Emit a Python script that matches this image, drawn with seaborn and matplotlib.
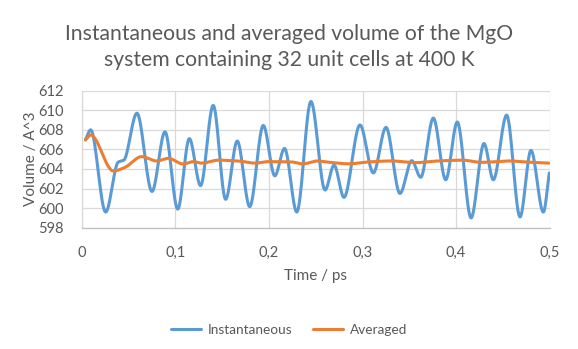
import numpy as np
import pandas as pd
import matplotlib
matplotlib.use("Agg")
import matplotlib.pyplot as plt
import seaborn as sns

# ---- data ----
inst_t = [0.004, 0.0096, 0.0256, 0.039, 0.045, 0.059, 0.0751, 0.089, 0.1026, 0.115,
          0.127, 0.1405, 0.1538, 0.1662, 0.1795, 0.194, 0.2063, 0.2167, 0.2298, 0.2449,
          0.260, 0.2696, 0.2802, 0.2973, 0.3116, 0.3251, 0.340, 0.3526, 0.3622, 0.3757,
          0.3889, 0.4013, 0.416, 0.4298, 0.4398, 0.454, 0.4683, 0.480, 0.4932, 0.4996]
inst_v = [607.0, 608.0, 599.6, 604.7, 604.9, 609.7, 601.7, 607.8, 599.9, 607.1,
          602.3, 610.5, 600.9, 606.85, 600.15, 608.45, 603.3, 606.1, 599.6, 610.9,
          601.85, 604.4, 601.1, 608.5, 603.6, 608.25, 601.5, 604.85, 603.15, 609.2,
          602.9, 608.8, 599.0, 606.6, 602.9, 609.5, 599.1, 605.9, 599.6, 603.6]

avg_t = [0.004, 0.0096, 0.0338, 0.0457, 0.064, 0.080, 0.0925, 0.1085, 0.119, 0.128,
         0.146, 0.169, 0.185, 0.199, 0.224, 0.236, 0.252, 0.263, 0.285, 0.306,
         0.331, 0.356, 0.381, 0.407, 0.427, 0.456, 0.477, 0.499]
avg_v = [606.96, 607.47, 603.8, 604.14, 605.26, 604.82, 605.09, 604.51, 604.75, 604.6,
         604.9, 604.8, 604.6, 604.75, 604.72, 604.52, 604.82, 604.7, 604.53, 604.72,
         604.82, 604.65, 604.82, 604.9, 604.68, 604.82, 604.7, 604.6]

series_names = ["Instantaneous", "Averaged"]
x_ticks = [0, 0.1, 0.2, 0.3, 0.4, 0.5]
x_tick_labels = ["0", "0,1", "0,2", "0,3", "0,4", "0,5"]
y_ticks = [598, 600, 602, 604, 606, 608, 610, 612]


def smooth_line(x, y, per_seg=30):
    """Monotone cubic (Excel-like smoothed line) through the read points."""
    x = np.asarray(x, float)
    y = np.asarray(y, float)
    h = np.diff(x)
    d = np.diff(y) / h
    m = np.zeros_like(y)
    m[0], m[-1] = d[0], d[-1]
    for k in range(1, len(x) - 1):
        if d[k - 1] * d[k] <= 0:
            m[k] = 0.0
        else:
            w1 = 2 * h[k] + h[k - 1]
            w2 = h[k] + 2 * h[k - 1]
            m[k] = (w1 + w2) / (w1 / d[k - 1] + w2 / d[k])
    xs, ys = [], []
    for k in range(len(x) - 1):
        s = np.linspace(0, 1, per_seg, endpoint=(k == len(x) - 2))
        h00 = 2 * s**3 - 3 * s**2 + 1
        h10 = s**3 - 2 * s**2 + s
        h01 = -2 * s**3 + 3 * s**2
        h11 = s**3 - s**2
        xs.append(x[k] + s * h[k])
        ys.append(h00 * y[k] + h10 * h[k] * m[k] + h01 * y[k + 1] + h11 * h[k] * m[k + 1])
    return np.concatenate(xs), np.concatenate(ys)


xi, yi = smooth_line(inst_t, inst_v)
xa, ya = smooth_line(avg_t, avg_v)
df = pd.concat([
    pd.DataFrame({"t": xi, "v": yi, "series": series_names[0]}),
    pd.DataFrame({"t": xa, "v": ya, "series": series_names[1]}),
], ignore_index=True)

sns.set_theme(style="white")
plt.rcParams["font.family"] = ["Lato", "DejaVu Sans"]
text_color = "#595959"

fig = plt.figure(figsize=(5.78, 3.49), dpi=100)
ax = fig.add_axes([81.7 / 578, 1 - 227.7 / 349, (549.7 - 81.7) / 578, (227.7 - 90.7) / 349])

sns.lineplot(data=df, x="t", y="v", hue="series", sort=False, estimator=None,
             palette={"Instantaneous": "#5b9bd5", "Averaged": "#ed7d31"},
             linewidth=2.2, ax=ax)

ax.set_xlim(0, 0.5)
ax.set_ylim(598, 612)
ax.set_xticks(x_ticks)
ax.set_xticklabels(x_tick_labels)
ax.set_yticks(y_ticks)
ax.tick_params(axis="both", length=0, labelsize=10.5, labelcolor=text_color)
ax.tick_params(axis="y", pad=13)
ax.tick_params(axis="x", pad=13)
ax.grid(True, color="#d9d9d9", linewidth=0.9)
ax.set_axisbelow(True)
for side in ["top", "right"]:
    ax.spines[side].set_visible(False)
ax.spines["left"].set_color("#d9d9d9")
ax.spines["left"].set_linewidth(0.9)
ax.spines["bottom"].set_color("#bfbfbf")
ax.spines["bottom"].set_linewidth(0.9)

ax.set_xlabel("Time / ps", fontsize=11, color=text_color, labelpad=7)
ax.set_ylabel("Volume / A^3", fontsize=11, color=text_color, labelpad=0)

fig.text(0.5, 1 - 47 / 349, "Instantaneous and averaged volume of the MgO\nsystem containing 32 unit cells at 400 K",
         ha="center", va="center", fontsize=15.2, color=text_color, linespacing=1.4)

sns.move_legend(ax, "center", bbox_to_anchor=(0.5, 1 - 330 / 349), bbox_transform=fig.transFigure,
                ncol=2, frameon=False, title=None, fontsize=9.8, handlelength=2.2,
                handletextpad=0.5, columnspacing=1.5)
for txt in ax.get_legend().get_texts():
    txt.set_color(text_color)

fig.savefig("out.png", dpi=100)
